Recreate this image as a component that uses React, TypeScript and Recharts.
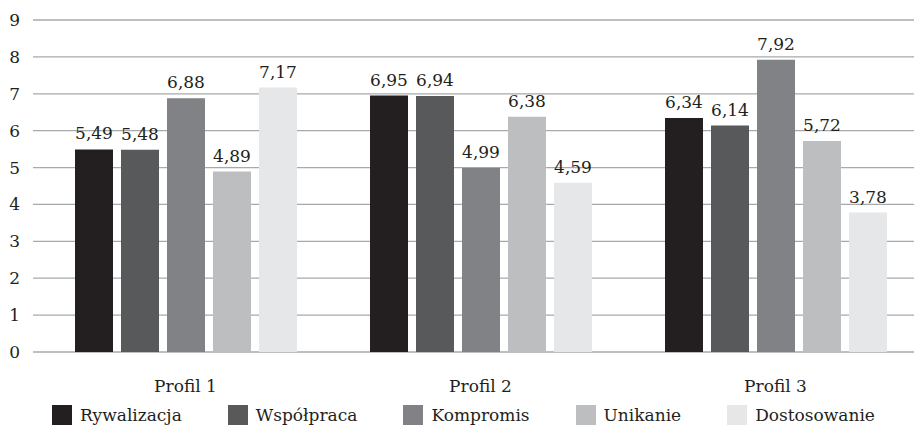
import { Bar, BarChart, CartesianGrid, LabelList, Legend, XAxis, YAxis } from "recharts";

const profiles = ["Profil 1", "Profil 2", "Profil 3"];
const rywalizacja = [5.49, 6.95, 6.34];
const wspolpraca = [5.48, 6.94, 6.14];
const kompromis = [6.88, 4.99, 7.92];
const unikanie = [4.89, 6.38, 5.72];
const dostosowanie = [7.17, 4.59, 3.78];
const yTicks = [0, 1, 2, 3, 4, 5, 6, 7, 8, 9];

const series = [
  { key: "rywalizacja", name: "Rywalizacja", color: "#231f20", values: rywalizacja },
  { key: "wspolpraca", name: "Współpraca", color: "#58595b", values: wspolpraca },
  { key: "kompromis", name: "Kompromis", color: "#808285", values: kompromis },
  { key: "unikanie", name: "Unikanie", color: "#bcbec0", values: unikanie },
  { key: "dostosowanie", name: "Dostosowanie", color: "#e6e7e8", values: dostosowanie }
];

const data = profiles.map((profile, i) => {
  const row: Record<string, string | number> = { profile };
  series.forEach((s) => {
    row[s.key] = s.values[i];
  });
  return row;
});

const FONT = "DejaVu Serif";
const formatComma = (v: any) => String(v).replace(".", ",");

// legend follows the series order, not the alphabetical default
function LegendContent() {
  return (
    <div
      style={{
        display: "flex",
        justifyContent: "center",
        alignItems: "center",
        height: 22,
        fontFamily: FONT,
        fontSize: 17,
        color: "#231f20",
        paddingLeft: 42
      }}
    >
      {series.map((s) => (
        <div key={s.key} style={{ display: "flex", alignItems: "center", marginRight: 46 }}>
          <span style={{ width: 20, height: 20, background: s.color, marginRight: 8, display: "inline-block" }} />
          <span style={{ lineHeight: "22px" }}>{s.name}</span>
        </div>
      ))}
    </div>
  );
}

export default function App() {
  return (
    <div style={{ position: "absolute", left: 0, top: 0, width: 914, height: 427, overflow: "hidden", background: "#fff" }}>
      <BarChart
        width={924}
        height={427}
        data={data}
        margin={{ top: 20, right: 1, bottom: 0, left: 8 }}
        barSize={38}
        barGap={8}
        style={{ fontFamily: FONT }}
      >
        <CartesianGrid vertical={false} stroke="#a7a9ac" strokeWidth={1.3} x={33} width={900} />
        <XAxis
          dataKey="profile"
          axisLine={false}
          tickLine={false}
          tickSize={0}
          tickMargin={28}
          height={53}
          tick={{ fontFamily: FONT, fontSize: 17, fill: "#231f20" }}
        />
        <YAxis
          domain={[0, 9]}
          ticks={yTicks}
          interval={0}
          axisLine={false}
          tickLine={false}
          tickSize={0}
          tickMargin={18}
          width={30}
          tick={{ fontFamily: FONT, fontSize: 17, fill: "#231f20" }}
        />
        <Legend verticalAlign="bottom" height={22} wrapperStyle={{ bottom: 1 }} content={<LegendContent />} />
        {series.map((s) => (
          <Bar key={s.key} dataKey={s.key} name={s.name} fill={s.color} isAnimationActive={false}>
            <LabelList
              dataKey={s.key}
              position="top"
              offset={10}
              formatter={formatComma}
              fontFamily={FONT}
              fontSize={17}
              fill="#231f20"
            />
          </Bar>
        ))}
      </BarChart>
    </div>
  );
}
